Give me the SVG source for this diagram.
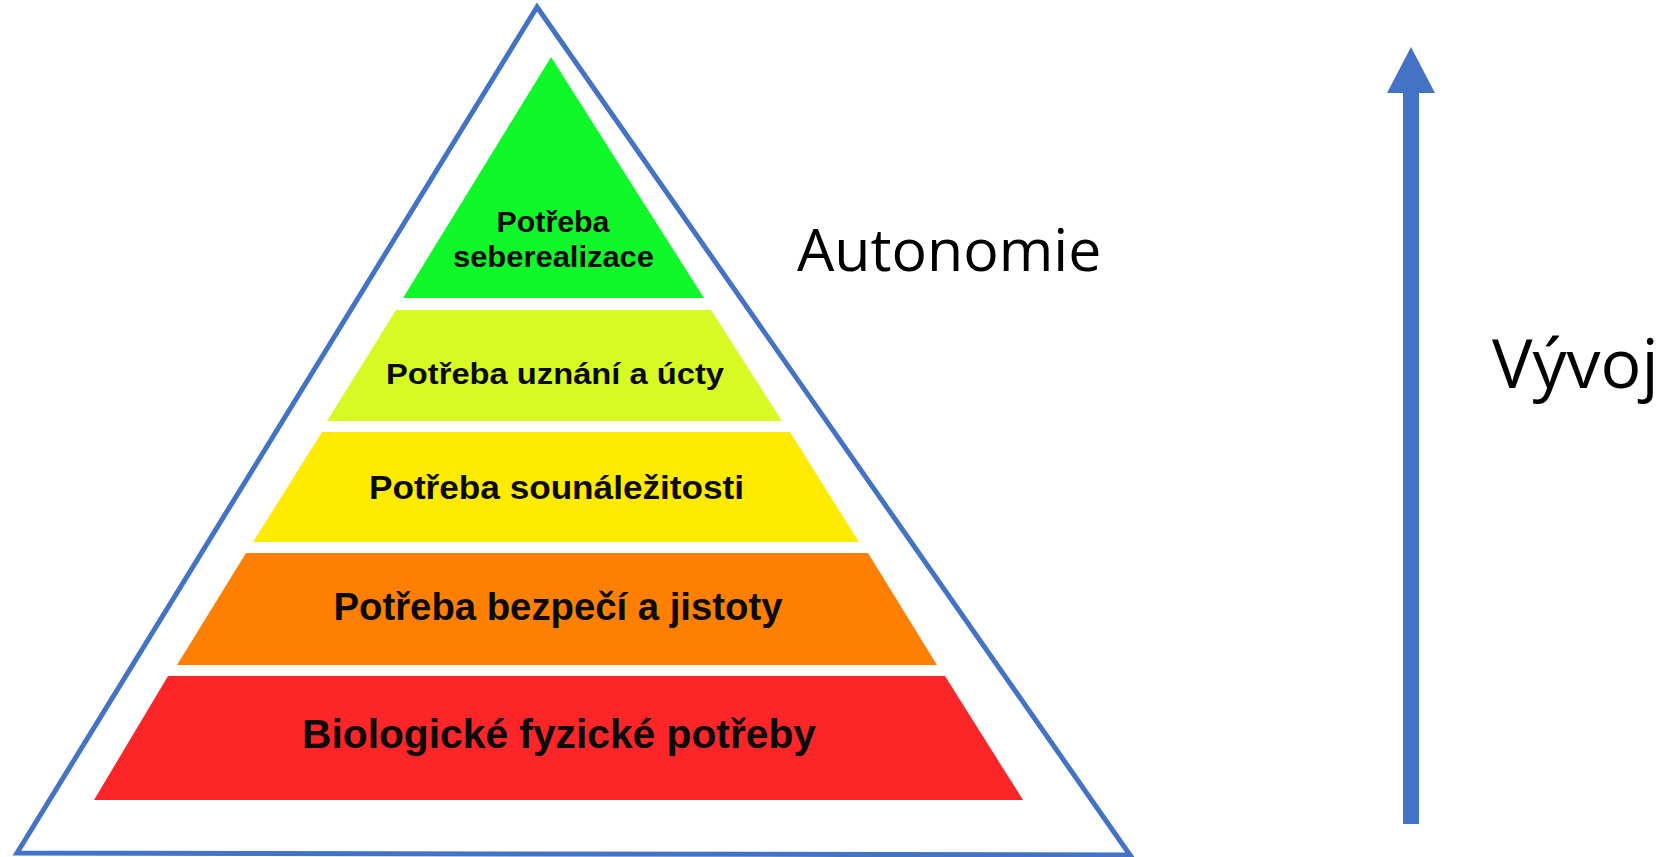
<svg xmlns="http://www.w3.org/2000/svg" width="1665" height="857" viewBox="0 0 1665 857">
  <style>
    .lbl { font-family: "Liberation Sans", Arial, sans-serif; font-weight: bold; fill: #0a0a0a; text-anchor: middle; }
    .side { font-family: "Open Sans", "Noto Sans", sans-serif; fill: #000; }
    .outline { fill: none; stroke: #4472C4; stroke-width: 5; stroke-linejoin: miter; }
    .blue { fill: #4472C4; }
  </style>
  <rect width="1665" height="857" fill="#ffffff"/>
  <g id="outer-triangle">
    <polygon class="outline" points="537,7 1130,855 17,853"/>
  </g>
  <g id="level-5-seberealizace">
    <polygon points="551,57 704,298 403,298" fill="#0ef82a"/>
    <text class="lbl" x="553" y="232" font-size="30" textLength="113" lengthAdjust="spacingAndGlyphs">Potřeba</text>
    <text class="lbl" x="553.5" y="267" font-size="30" textLength="201" lengthAdjust="spacingAndGlyphs">seberealizace</text>
  </g>
  <g id="level-4-uznani">
    <polygon points="396,310 711,310 782,421 327,421" fill="#d8fa24"/>
    <text class="lbl" x="555" y="384" font-size="30" textLength="338" lengthAdjust="spacingAndGlyphs">Potřeba uznání a úcty</text>
  </g>
  <g id="level-3-sounalezitost">
    <polygon points="322,432 790,432 859,542 253,542" fill="#ffeb00"/>
    <text class="lbl" x="556.5" y="499" font-size="34" textLength="375" lengthAdjust="spacingAndGlyphs">Potřeba sounáležitosti</text>
  </g>
  <g id="level-2-bezpeci">
    <polygon points="246,553 868,553 937,665 177,665" fill="#ff8000"/>
    <text class="lbl" x="558" y="620" font-size="38" textLength="449" lengthAdjust="spacingAndGlyphs">Potřeba bezpečí a jistoty</text>
  </g>
  <g id="level-1-biologicke">
    <polygon points="168,676 945,676 1023,800 94,800" fill="#fc2628"/>
    <text class="lbl" x="559" y="748" font-size="40" textLength="514" lengthAdjust="spacingAndGlyphs">Biologické fyzické potřeby</text>
  </g>
  <g id="autonomie">
    <text class="side" x="797" y="271" font-size="59">Autonomie</text>
  </g>
  <g id="vyvoj">
    <text class="side" x="1492" y="388" font-size="68">Vývoj</text>
  </g>
  <g id="connectors">
    <rect class="blue" x="1403" y="92" width="16" height="732"/>
    <polygon class="blue" points="1411,47 1435,93 1387,93"/>
  </g>
</svg>
